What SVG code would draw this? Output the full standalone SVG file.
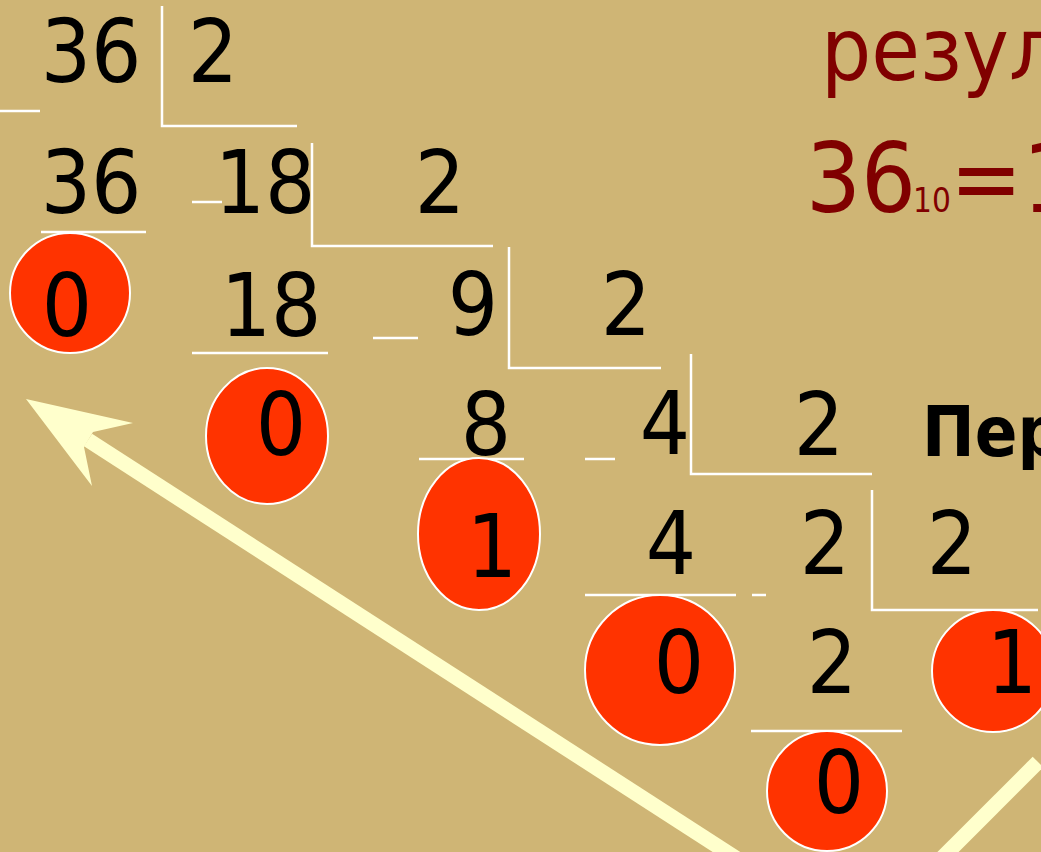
<svg xmlns="http://www.w3.org/2000/svg" width="1041" height="852" viewBox="0 0 1041 852">
<style>
.d{font-family:"DejaVu Sans Condensed","DejaVu Sans","Liberation Sans",sans-serif;font-stretch:condensed;font-size:88px;fill:#000;text-anchor:middle}
.r{font-family:"DejaVu Sans Condensed","DejaVu Sans","Liberation Sans",sans-serif;font-stretch:condensed;fill:#800000}
.b{font-family:"DejaVu Sans Condensed","DejaVu Sans","Liberation Sans",sans-serif;font-stretch:condensed;font-weight:bold;font-size:70px;fill:#000}
.ln{stroke:#fff;stroke-width:2.5;fill:none}
.c{fill:#ff3300;stroke:#fff;stroke-width:2}
.ar{stroke:#ffffcc;stroke-width:15;fill:none}
</style>
<rect width="1041" height="852" fill="#cfb575"/>
<g id="lines">
<path class="ln" d="M0 111H40M162 6V126H297M41 232H146M192 202H222M312 143V246H493M192 353H328M373 338H418M509 247V368H661M419 459H524M585 459H615M691 354V474H872M585 595H736M752 595H766M872 490V610H1038M751 731H902"/>
</g>
<g id="connectors">
<line class="ar" x1="88" y1="440" x2="742" y2="862"/>
<polygon fill="#ffffcc" points="26,399 133,423 93,432 84,447 92,486"/>
<line class="ar" x1="1038" y1="762" x2="938" y2="862"/>
</g>
<g id="row1">
<text class="d" x="91" y="82">36</text>
<text class="d" x="213" y="82">2</text>
</g>
<g id="row2">
<text class="d" x="91" y="213">36</text>
<text class="d" x="265" y="213">18</text>
<text class="d" x="440" y="213">2</text>
</g>
<g id="row3">
<ellipse class="c" cx="70" cy="293" rx="60" ry="60"/>
<text class="d" x="67" y="336">0</text>
<text class="d" x="271" y="336">18</text>
<text class="d" x="473" y="335">9</text>
<text class="d" x="626" y="335">2</text>
</g>
<g id="row4">
<ellipse class="c" cx="267" cy="436" rx="61" ry="68"/>
<text class="d" x="281" y="455">0</text>
<text class="d" x="486" y="455">8</text>
<text class="d" x="665" y="454">4</text>
<text class="d" x="819" y="455">2</text>
<text class="b" x="922" y="456">Пер</text>
</g>
<g id="row5">
<ellipse class="c" cx="479" cy="534" rx="61" ry="76"/>
<text class="d" x="492" y="577">1</text>
<text class="d" x="671" y="574">4</text>
<text class="d" x="825" y="574">2</text>
<text class="d" x="952" y="574">2</text>
</g>
<g id="row6">
<ellipse class="c" cx="660" cy="670" rx="75" ry="75"/>
<text class="d" x="679" y="693">0</text>
<text class="d" x="832" y="693">2</text>
<ellipse class="c" cx="993" cy="671" rx="61" ry="61"/>
<text class="d" x="1012" y="693">1</text>
</g>
<g id="row7">
<ellipse class="c" cx="827" cy="791" rx="60" ry="60"/>
<text class="d" x="839" y="813">0</text>
</g>
<g id="result">
<text class="r" x="821" y="80" font-size="88">резул</text>
<text class="r" x="806" y="212" font-size="96">36<tspan font-size="33" x="913">10</tspan><tspan x="950">=1</tspan></text>
</g>
</svg>
